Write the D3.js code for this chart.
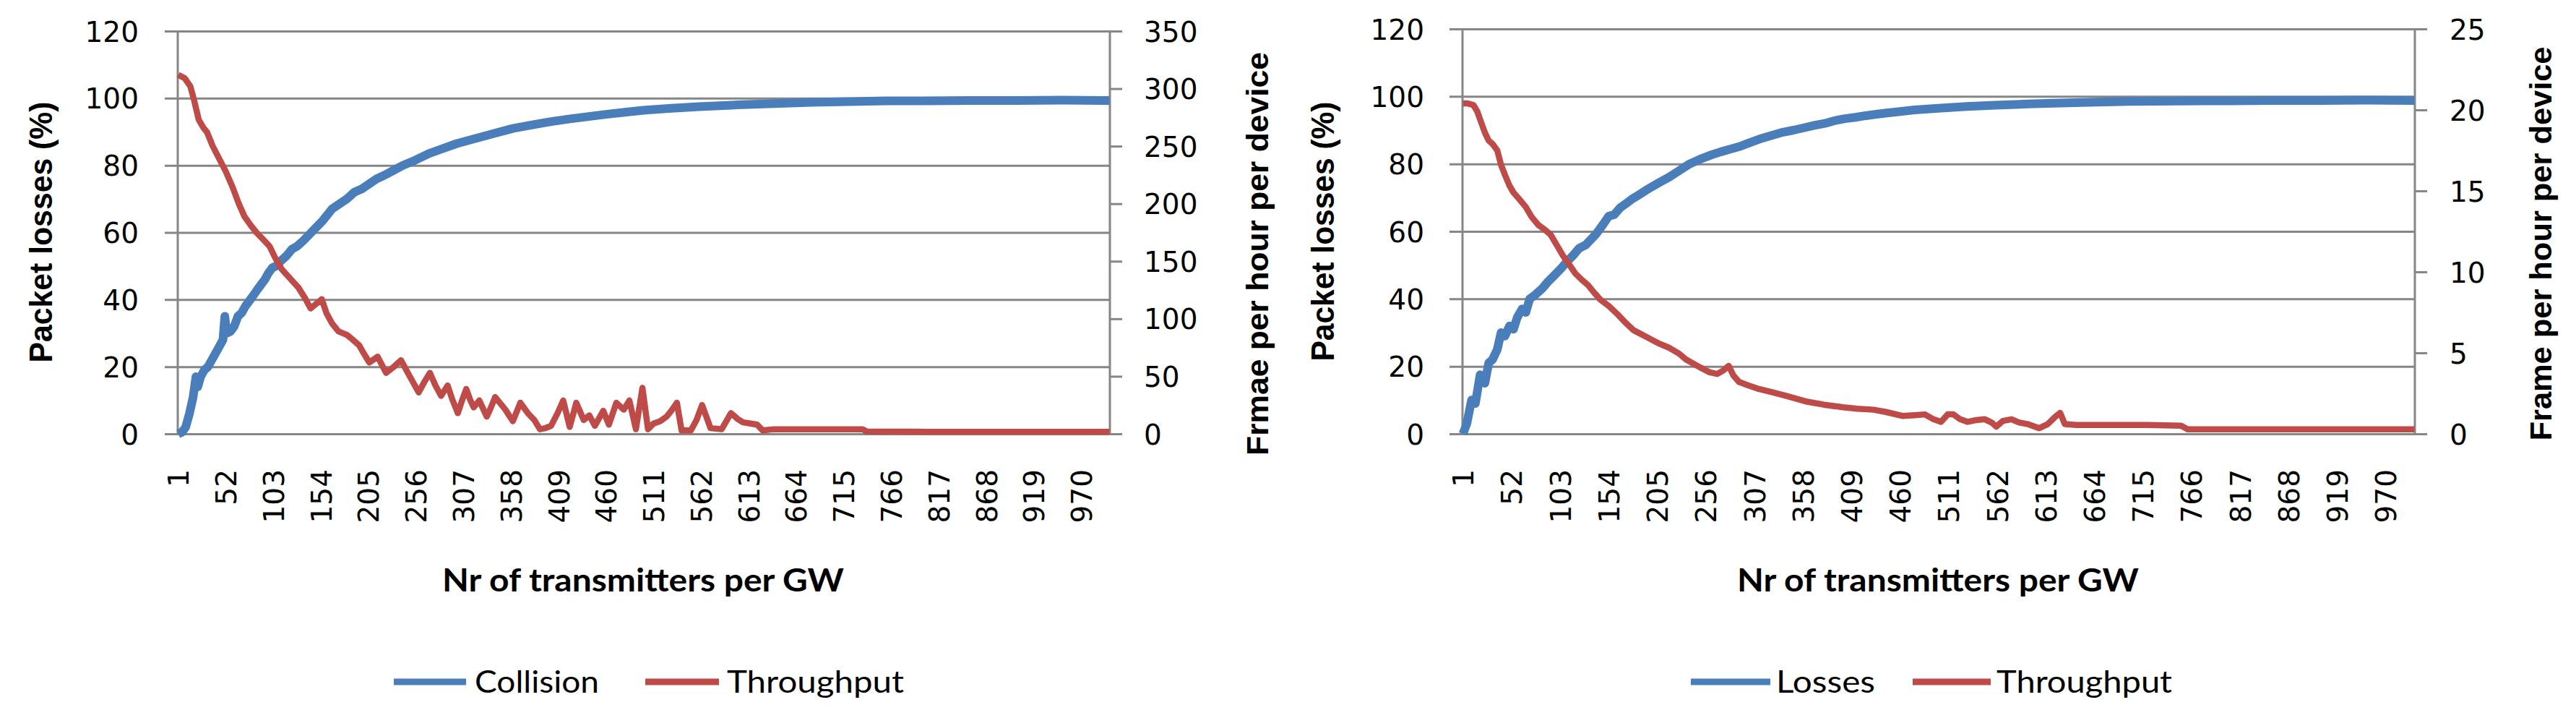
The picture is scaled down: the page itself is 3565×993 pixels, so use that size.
<!DOCTYPE html>
<html>
<head>
<meta charset="utf-8">
<script src="https://cdnjs.cloudflare.com/ajax/libs/d3/7.8.5/d3.min.js"></script>
<style>
body { margin: 0; background: #fff; }
</style>
</head>
<body>
<div id="chart"></div>
<script>
// categories on the x axis: Nr of transmitters per GW, 1..1000
var nCategories = 1000;
var xTickLabels = [1, 52, 103, 154, 205, 256, 307, 358, 409, 460, 511, 562, 613, 664, 715, 766, 817, 868, 919, 970];
var lossTicks = [0, 20, 40, 60, 80, 100, 120];
var frameTicksA = [0, 50, 100, 150, 200, 250, 300, 350];
var frameTicksB = [0, 5, 10, 15, 20, 25];

// chart A, Collision (%), read at these categories
var collisionAt = [1, 5, 9, 13, 17, 20, 22, 25, 29, 33, 37, 41, 45, 49, 51, 53, 57, 61, 65, 69, 73, 77, 81, 86, 90, 94, 98, 102, 106, 111, 117, 123, 129, 135, 142, 149, 156, 166, 174, 182, 190, 198, 206, 214, 222, 232, 242, 255, 270, 285, 300, 320, 340, 360, 380, 400, 420, 440, 460, 480, 500, 530, 560, 600, 640, 680, 720, 760, 800, 850, 900, 950, 1000];
var collisionVal = [0, 0.5, 2, 6, 11, 17, 14, 17, 19, 20, 22, 24, 26, 28, 35, 30, 30.5, 32, 35, 36, 38, 39.5, 41, 43, 44.5, 46, 48, 49.5, 50, 51.5, 53, 55, 56, 57.5, 59.5, 61.5, 63.5, 67, 68.5, 70, 72, 73, 74.5, 76, 77, 78.5, 80, 81.5, 83.5, 85, 86.5, 88, 89.5, 91, 92, 93, 93.8, 94.5, 95.2, 95.8, 96.4, 97, 97.5, 98, 98.4, 98.8, 99, 99.2, 99.2, 99.3, 99.3, 99.4, 99.3];

// chart A, Throughput (frames per hour per device)
var throughputAAt = [1, 8, 14, 18, 23, 28, 32, 38, 45, 52, 59, 66, 72, 79, 86, 92, 99, 105, 112, 120, 130, 137, 143, 149, 155, 160, 166, 173, 182, 188, 195, 200, 206, 215, 224, 232, 240, 248, 259, 265, 271, 277, 283, 290, 295, 301, 305, 310, 314, 318, 324, 332, 336, 341, 347, 352, 360, 368, 376, 383, 389, 395, 401, 408, 414, 421, 428, 436, 442, 448, 457, 463, 471, 479, 485, 492, 499, 505, 511, 518, 525, 530, 536, 541, 551, 557, 563, 568, 572, 584, 594, 601, 607, 615, 622, 628, 640, 660, 680, 700, 720, 735, 740, 800, 900, 1000];
var throughputAVal = [312, 309, 302, 290, 273, 266, 262, 250, 239, 228, 215, 200, 189, 181, 174, 169, 163, 153, 143, 136, 127, 118, 109, 113, 117, 105, 96, 89, 86, 82, 77, 70, 62, 67, 53, 58, 64, 52, 36, 45, 53, 42, 33, 42, 30, 18, 28, 39, 30, 23, 29, 15, 22, 32, 26, 21, 11, 27, 18, 12, 4, 5, 7, 18, 29, 6, 27, 12, 16, 7, 20, 8, 27, 21, 29, 4, 40, 4, 9, 11, 15, 20, 27, 3, 3, 12, 25, 14, 5, 4, 18, 13, 10, 9, 8, 3, 4, 4, 4, 4, 4, 4, 2, 1.8, 1.8, 1.8];

// chart B, Losses (%)
var lossesAt = [1, 5, 10, 14, 19, 24, 28, 32, 37, 41, 45, 50, 54, 58, 63, 67, 71, 76, 80, 84, 90, 97, 104, 110, 117, 123, 130, 135, 141, 148, 154, 160, 166, 171, 178, 185, 195, 206, 217, 228, 239, 250, 261, 272, 283, 293, 304, 315, 326, 337, 348, 359, 370, 381, 391, 402, 413, 424, 435, 446, 460, 475, 500, 530, 560, 600, 650, 700, 750, 800, 850, 900, 950, 1000];
var lossesVal = [0, 3, 10, 9, 17.5, 15, 21, 22, 25, 30, 29, 32, 31, 34.5, 37, 36, 40, 41, 42, 43, 45, 47, 49, 51, 53, 55, 56, 57.5, 59.3, 62, 64.5, 65, 67, 68, 69.5, 70.7, 72.5, 74.3, 76, 78, 80, 81.4, 82.6, 83.6, 84.5, 85.3, 86.5, 87.6, 88.5, 89.4, 90, 90.7, 91.4, 92, 92.8, 93.4, 93.8, 94.3, 94.7, 95.1, 95.5, 96, 96.5, 97, 97.4, 97.8, 98.2, 98.5, 98.6, 98.7, 98.8, 98.8, 98.9, 98.8];

// chart B, Throughput (frames per hour per device)
var throughputBAt = [1, 6, 12, 16, 19, 24, 28, 32, 37, 41, 45, 50, 54, 60, 67, 73, 80, 87, 93, 100, 106, 112, 119, 126, 132, 139, 145, 154, 163, 171, 180, 193, 206, 218, 228, 235, 250, 260, 268, 274, 280, 285, 291, 300, 310, 324, 340, 361, 380, 400, 415, 432, 445, 463, 475, 486, 495, 503, 510, 516, 523, 531, 540, 549, 556, 561, 568, 577, 585, 594, 606, 615, 622, 628, 633, 645, 680, 720, 755, 762, 1000];
var throughputBVal = [20.4, 20.4, 20.3, 19.9, 19.4, 18.6, 18.1, 17.9, 17.5, 16.6, 16, 15.3, 14.9, 14.5, 14, 13.4, 12.9, 12.6, 12.3, 11.6, 11, 10.5, 9.9, 9.5, 9.2, 8.7, 8.3, 7.9, 7.4, 6.9, 6.4, 6, 5.6, 5.3, 4.95, 4.6, 4.1, 3.8, 3.7, 3.9, 4.2, 3.6, 3.2, 3, 2.8, 2.6, 2.35, 2, 1.8, 1.64, 1.55, 1.49, 1.35, 1.1, 1.15, 1.2, 0.9, 0.74, 1.2, 1.2, 0.9, 0.74, 0.85, 0.9, 0.7, 0.45, 0.8, 0.9, 0.7, 0.6, 0.35, 0.6, 1, 1.3, 0.6, 0.55, 0.55, 0.55, 0.5, 0.28, 0.28];

var blue = "#4a7ebb", red = "#be4b48", grid = "#868686";
var numFont = "'DejaVu Sans', sans-serif";
var titleFont = "'Liberation Sans', Arial, sans-serif";
var calFont = "Lato, 'Open Sans', sans-serif";

var svg = d3.select("#chart").append("svg")
    .attr("width", 3565)
    .attr("height", 993)
    .style("display", "block");

function zip(a, b) {
    return a.map(function (d, i) { return [d, b[i]]; });
}

function drawChart(o) {
    var x = d3.scaleLinear().domain([0.5, nCategories + 0.5]).range([o.left, o.right]);
    var y = d3.scaleLinear().domain([0, 120]).range([o.bottom, o.top]);
    var y2 = d3.scaleLinear().domain([0, o.y2Max]).range([o.bottom, o.top]);
    var width = o.right - o.left;

    // left axis + horizontal grid
    var gy = svg.append("g")
        .attr("transform", "translate(" + o.left + ",0)")
        .call(d3.axisLeft(y).tickValues(lossTicks).tickSizeInner(-width).tickSizeOuter(0).tickPadding(o.left - o.leftLabelX));
    gy.select(".domain").remove();
    gy.selectAll(".tick line").attr("x1", -18).attr("x2", width)
        .style("stroke", grid).style("stroke-width", "3px");
    gy.selectAll(".tick text").attr("dy", "0.36em");

    // left and right vertical axis lines
    svg.append("line")
        .attr("x1", o.left).attr("x2", o.left).attr("y1", o.top).attr("y2", o.bottom)
        .style("stroke", grid).style("stroke-width", "3px");

    var gy2 = svg.append("g")
        .attr("transform", "translate(" + o.right + ",0)")
        .call(d3.axisRight(y2).tickValues(o.y2Ticks).tickSizeInner(17).tickSizeOuter(0).tickPadding(o.rightLabelX - o.right - 17));
    gy2.select(".domain").remove();
    gy2.selectAll(".tick line").style("stroke", grid).style("stroke-width", "3px");
    gy2.selectAll(".tick text").attr("dy", "0.36em");
    svg.append("line")
        .attr("x1", o.right).attr("x2", o.right).attr("y1", o.top).attr("y2", o.bottom)
        .style("stroke", grid).style("stroke-width", "3px");

    // category axis, labels rotated
    var gx = svg.append("g")
        .attr("transform", "translate(0," + o.bottom + ")")
        .call(d3.axisBottom(x).tickValues(xTickLabels).tickSize(0));
    gx.select(".domain").remove();
    gx.selectAll(".tick text")
        .attr("transform", "rotate(-90)")
        .attr("text-anchor", "end")
        .attr("x", -49)
        .attr("y", 0)
        .attr("dy", "0.36em");

    [gy, gy2, gx].forEach(function (g) {
        g.attr("font-family", null).attr("font-size", null);
        g.selectAll(".tick text")
            .style("font-family", numFont).style("font-size", "39px").style("fill", "#000");
    });

    // series
    var line = d3.line().x(function (d) { return x(d[0]); });
    svg.append("path")
        .datum(zip(o.lossAt, o.lossVal))
        .attr("fill", "none")
        .attr("d", line.y(function (d) { return y(d[1]); }))
        .style("stroke", blue).style("stroke-width", "12px").style("stroke-linejoin", "round");
    svg.append("path")
        .datum(zip(o.thrAt, o.thrVal))
        .attr("fill", "none")
        .attr("d", line.y(function (d) { return y2(d[1]); }))
        .style("stroke", red).style("stroke-width", "8.5px").style("stroke-linejoin", "round");

    // titles
    svg.append("text")
        .attr("transform", "translate(" + o.yTitleX + "," + o.yTitleY + ") rotate(-90)")
        .attr("text-anchor", "middle")
        .attr("textLength", o.yTitleLen).attr("lengthAdjust", "spacingAndGlyphs")
        .style("font-family", titleFont).style("font-weight", "700").style("font-size", "45px")
        .text("Packet losses (%)");
    svg.append("text")
        .attr("transform", "translate(" + o.y2TitleX + "," + o.y2TitleY + ") rotate(-90)")
        .attr("text-anchor", "middle")
        .attr("textLength", o.y2TitleLen).attr("lengthAdjust", "spacingAndGlyphs")
        .style("font-family", titleFont).style("font-weight", "700").style("font-size", "43px")
        .text(o.y2Title);
    svg.append("text")
        .attr("x", (o.left + o.right) / 2 - 1).attr("y", 818)
        .attr("text-anchor", "middle")
        .attr("textLength", 556).attr("lengthAdjust", "spacingAndGlyphs")
        .style("font-family", calFont).style("font-weight", "700").style("font-size", "43px")
        .text("Nr of transmitters per GW");

    // legend
    var items = [
        { name: o.lossName, color: blue, x1: o.legend[0], x2: o.legend[1], tx: o.legend[2], len: o.legend[3] },
        { name: "Throughput", color: red, x1: o.legend[4], x2: o.legend[5], tx: o.legend[6], len: o.legend[7] }
    ];
    var lg = svg.selectAll(null).data(items).enter().append("g");
    lg.append("line")
        .attr("x1", function (d) { return d.x1; }).attr("x2", function (d) { return d.x2; })
        .attr("y1", 943).attr("y2", 943)
        .style("stroke", function (d) { return d.color; }).style("stroke-width", "9px");
    lg.append("text")
        .attr("x", function (d) { return d.tx; }).attr("y", 958)
        .attr("textLength", function (d) { return d.len; }).attr("lengthAdjust", "spacingAndGlyphs")
        .style("font-family", calFont).style("font-size", "42px").style("fill", "#000")
        .text(function (d) { return d.name; });
}

drawChart({
    left: 246, right: 1536, top: 43, bottom: 600,
    leftLabelX: 192, rightLabelX: 1583,
    y2Max: 350, y2Ticks: frameTicksA,
    lossAt: collisionAt, lossVal: collisionVal, lossName: "Collision",
    thrAt: throughputAAt, thrVal: throughputAVal,
    yTitleX: 72, yTitleY: 321, yTitleLen: 361,
    y2TitleX: 1755, y2TitleY: 351, y2TitleLen: 558, y2Title: "Frmae per hour per device",
    legend: [545, 645, 657, 172, 893, 995, 1006, 245]
});

drawChart({
    left: 2024, right: 3342, top: 40, bottom: 600,
    leftLabelX: 1971, rightLabelX: 3390,
    y2Max: 25, y2Ticks: frameTicksB,
    lossAt: lossesAt, lossVal: lossesVal, lossName: "Losses",
    thrAt: throughputBAt, thrVal: throughputBVal,
    yTitleX: 1846, yTitleY: 320, yTitleLen: 359,
    y2TitleX: 3531, y2TitleY: 337, y2TitleLen: 545, y2Title: "Frame per hour per device",
    legend: [2340, 2450, 2458, 137, 2647, 2755, 2763, 243]
});
</script>
</body>
</html>
